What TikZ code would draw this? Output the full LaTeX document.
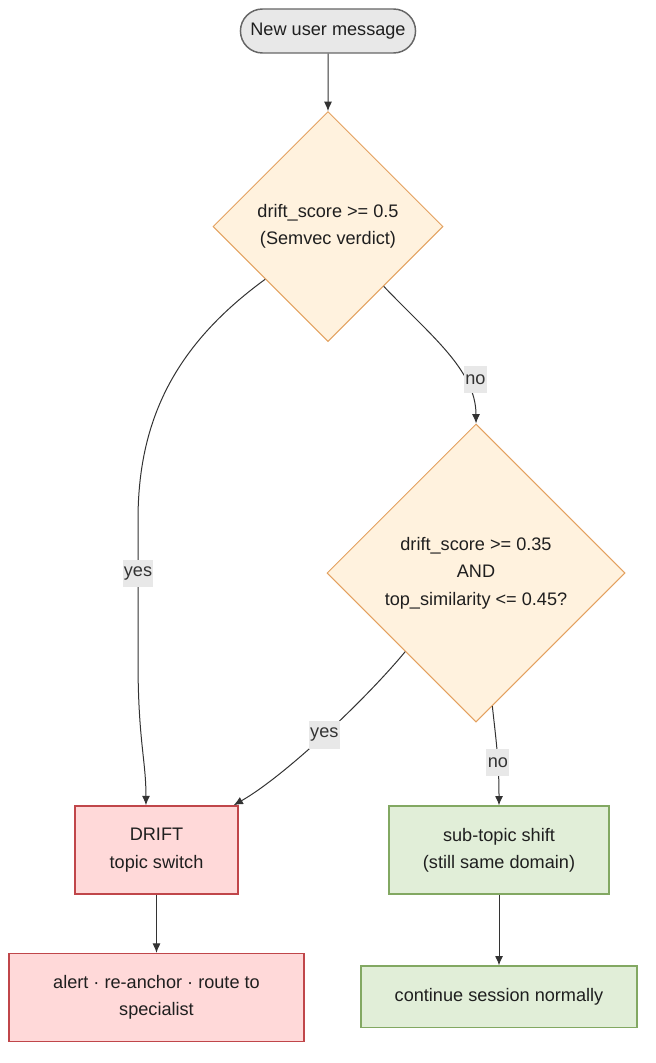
\documentclass[tikz,border=0pt]{standalone}
\usepackage{fontspec}
\setmainfont{Liberation Sans}
\usepackage{tikz}
\usetikzlibrary{shapes.geometric, shapes.misc, arrows.meta}
\usetikzlibrary{positioning}

\definecolor{startfill}{HTML}{E8E8E8}
\definecolor{startline}{HTML}{666666}
\definecolor{askfill}{HTML}{FFF2DE}
\definecolor{askline}{HTML}{E3A15F}
\definecolor{driftfill}{HTML}{FFD9D9}
\definecolor{driftline}{HTML}{C0464A}
\definecolor{keepfill}{HTML}{E1EED8}
\definecolor{keepline}{HTML}{82A862}
\definecolor{edgegray}{HTML}{333333}
\definecolor{lblfill}{HTML}{E8E8E8}

\tikzset{
  start_node/.style={rounded rectangle, fill=startfill, draw=startline,
    line width=1.1pt, minimum width=138pt, minimum height=33pt},
  ask_node/.style={diamond, aspect=1, inner sep=0pt, fill=askfill,
    draw=askline, line width=0.75pt},
  drift_box/.style={rectangle, fill=driftfill, draw=driftline,
    line width=1.2pt, minimum height=66pt},
  keep_box/.style={rectangle, fill=keepfill, draw=keepline,
    line width=1pt, minimum height=66pt},
  flow/.style={draw=edgegray, line width=0.75pt, -{Latex[length=7pt,width=6pt]}},
  edge_label/.style={fill=lblfill, text=edgegray, inner sep=1pt, minimum height=20.5pt},
}

\begin{document}
\begin{tikzpicture}[x=0.75pt, y=-0.75pt, node distance=43pt,
        every node/.style={align=center,
          text=black!88,
          font=\fontsize{13.6pt}{20.5pt}\selectfont,
      },]
      \useasboundingbox (0,0) rectangle (656,1063);

      \node[start_node] (start) at (328,31) {New user message};
      \node[ask_node, minimum size=172.5pt, below=of start] (d1) {drift\_score >= 0.5\\(Semvec verdict)};
      \node[ask_node, minimum size=223.5pt] (d2) at (476,573) {drift\_score >= 0.35\\AND\\top\_similarity <= 0.45?};
      \node[drift_box, minimum width=122pt] (drift) at (156.5,850) {DRIFT\\topic switch};
      \node[drift_box, minimum width=221pt, below=43.5pt of drift] (alert) {alert · re-anchor · route to\\specialist};
      \node[keep_box, minimum width=165pt] (sub) at (499,850) {sub-topic shift\\(still same domain)};
      \node[keep_box, minimum width=207pt, minimum height=46pt, below=53pt of sub] (cont) {continue session normally};

      \draw[flow] (start) -- (d1);
      \draw[flow] (d1.220) .. controls (175,345) and (138,420) .. (138,520)
        -- node[edge_label, pos=.38] {yes} (138,660)
        .. controls (138,740) and (146,760) .. ([xshift=-7.9pt]drift.north);
      \draw[flow] (d1.313) .. controls (430,335) and (476,370) .. node[edge_label, pos=.7, xshift=8pt] {no} (d2.north);
      \draw[flow] (d2.228) .. controls (367,698) and (285,776) .. node[edge_label, pos=.5] {yes} ([xshift=-3.75pt]drift.north east);
      \draw[flow] (d2.277) .. controls (496,740) and (499,760) .. node[edge_label, pos=.62] {no} (sub.north);
      \draw[flow] (drift) -- (alert);
      \draw[flow] (sub) -- (cont);
    \end{tikzpicture}
\end{document}
